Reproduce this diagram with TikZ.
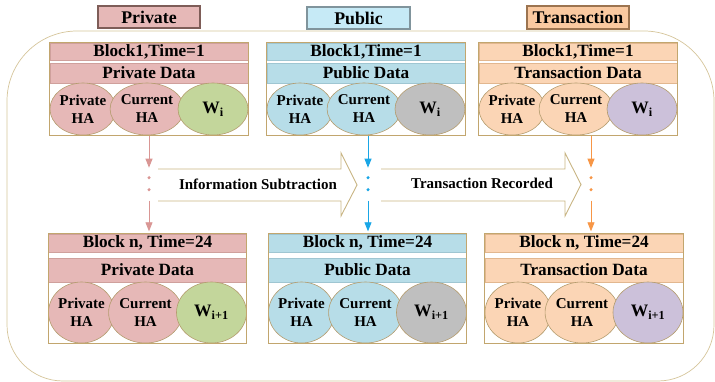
\documentclass[tikz,border=0pt]{standalone}
\usepackage{fontspec}
\setmainfont{Liberation Serif}
\usetikzlibrary{fit,arrows.meta,shapes.geometric,calc}
\definecolor{pinkf}{HTML}{E6B8B7}
\definecolor{pinkd}{HTML}{CFA09C}
\definecolor{bluef}{HTML}{B7DDE8}
\definecolor{blued}{HTML}{9FC6D2}
\definecolor{peachf}{HTML}{FBD5B5}
\definecolor{peachd}{HTML}{E2B78F}
\definecolor{greenf}{HTML}{C3D69B}
\definecolor{grayf}{HTML}{BFBFBF}
\definecolor{purplef}{HTML}{CCC1DA}
\definecolor{elld}{HTML}{B49C6E}
\definecolor{framec}{HTML}{C2A66E}
\definecolor{outerc}{HTML}{D5C59A}
\definecolor{bigac}{HTML}{C8B483}
\definecolor{pinka}{HTML}{D99694}
\definecolor{bluea}{HTML}{19A6E6}
\definecolor{orangea}{HTML}{F79646}
\definecolor{legpf}{HTML}{E6B8B7}
\definecolor{legpd}{HTML}{7E5D58}
\definecolor{legbf}{HTML}{C6EAF6}
\definecolor{legbd}{HTML}{80949C}
\definecolor{legtf}{HTML}{FAC9A0}
\definecolor{legtd}{HTML}{9C7450}
\begin{document}
\begin{tikzpicture}[x=1pt,y=-1pt,
  band/.style={inner sep=0pt, minimum width=198pt, line width=0.6pt,
    font=\fontsize{17.2}{19}\selectfont\bfseries},
  bandP/.style={band, fill=pinkf, draw=pinkd},
  bandB/.style={band, fill=bluef, draw=blued},
  bandT/.style={band, fill=peachf, draw=peachd},
  ell/.style={ellipse, draw=elld, line width=0.6pt, inner sep=0pt,
    minimum width=66pt, align=center, font=\fontsize{15}{18}\selectfont\bfseries},
  wel/.style={ell, minimum width=70pt, font=\fontsize{17.5}{19}\selectfont\bfseries},
  blockframe/.style={draw=framec, line width=0.8pt, inner sep=0pt},
  legend/.style={inner sep=0pt, line width=1.4pt, font=\fontsize{17.8}{19}\selectfont\bfseries},
  bigarrow/.style={draw=bigac, line width=0.9pt, line join=miter},
  varrow/.style={draw=#1, line width=0.9pt, -{Triangle[length=9pt,width=7pt]}},
  lbl/.style={font=\fontsize{15}{17}\selectfont\bfseries, inner sep=0pt}
]
\useasboundingbox (0,0) rectangle (715,382);

% outer frame
\draw[outerc, line width=0.7pt] (77,31) -- (644,31) .. controls (682.6,31) and (714,62.4) .. (714,101)
  -- (714,325) .. controls (714,355.9) and (688.9,381) .. (658,381) -- (63,381)
  .. controls (32.1,381) and (7,355.9) .. (7,325) -- (7,101)
  .. controls (7,62.4) and (38.4,31) .. (77,31) -- cycle;

% legend
\node[legend, fill=legpf, draw=legpd, minimum width=102pt, minimum height=22pt] (legP) at (149,17) {Private};
\node[legend, fill=legbf, draw=legbd, minimum width=103pt, minimum height=22pt] (legB) at (358.5,18) {Public};
\node[legend, fill=legtf, draw=legtd, minimum width=102pt, minimum height=23pt] (legT) at (578,17.5) {Transaction};

% ---------- top blocks ----------
% Private
\node[bandP, minimum height=17pt] (p1h) at (149,51.5) {Block1,Time=1};
\node[bandP, minimum height=20pt] (p1d) at (149,73) {Private Data};
\node[ell, fill=pinkf, minimum height=52pt] (p1a) at (83,109) {Private\\HA};
\node[ell, fill=pinkf, minimum height=52pt] (p1c) at (147,109) {Current\\HA};
\node[wel, fill=greenf, minimum height=52pt] (p1w) at (213,109) {W\textsubscript{i}};
\node[blockframe, fit=(p1h)(p1a)(p1c)(p1w)] (p1f) {};
% Public
\node[bandB, minimum height=17pt] (b1h) at (366,51.5) {Block1,Time=1};
\node[bandB, minimum height=20pt] (b1d) at (366,73) {Public Data};
\node[ell, fill=bluef, minimum height=52pt] (b1a) at (300,109) {Private\\HA};
\node[ell, fill=bluef, minimum height=52pt] (b1c) at (364,109) {Current\\HA};
\node[wel, fill=grayf, minimum height=52pt] (b1w) at (430,109) {W\textsubscript{i}};
\node[blockframe, fit=(b1h)(b1a)(b1c)(b1w)] (b1f) {};
% Transaction
\node[bandT, minimum height=17pt] (t1h) at (578,51.5) {Block1,Time=1};
\node[bandT, minimum height=20pt] (t1d) at (578,73) {Transaction Data};
\node[ell, fill=peachf, minimum height=52pt] (t1a) at (512,109) {Private\\HA};
\node[ell, fill=peachf, minimum height=52pt] (t1c) at (576,109) {Current\\HA};
\node[wel, fill=purplef, minimum height=52pt] (t1w) at (642,109) {W\textsubscript{i}};
\node[blockframe, fit=(t1h)(t1a)(t1c)(t1w)] (t1f) {};

% ---------- bottom blocks ----------
% Private
\node[bandP, minimum height=18pt] (pnh) at (147.5,243) {Block n, Time=24};
\node[bandP, minimum height=24pt] (pnd) at (147.5,270) {Private Data};
\node[ell, fill=pinkf, minimum height=61pt] (pna) at (81.5,312.5) {Private\\HA};
\node[ell, fill=pinkf, minimum height=61pt] (pnc) at (145.5,312.5) {Current\\HA};
\node[wel, fill=greenf, minimum height=61pt] (pnw) at (211.5,312.5) {W\textsubscript{i+1}};
\node[blockframe, fit=(pnh)(pna)(pnc)(pnw)] (pnf) {};
% Public
\node[bandB, minimum height=18pt] (bnh) at (367.5,243) {Block n, Time=24};
\node[bandB, minimum height=24pt] (bnd) at (367.5,270) {Public Data};
\node[ell, fill=bluef, minimum height=61pt] (bna) at (301.5,312.5) {Private\\HA};
\node[ell, fill=bluef, minimum height=61pt] (bnc) at (365.5,312.5) {Current\\HA};
\node[wel, fill=grayf, minimum height=61pt] (bnw) at (431.5,312.5) {W\textsubscript{i+1}};
\node[blockframe, fit=(bnh)(bna)(bnc)(bnw)] (bnf) {};
% Transaction
\node[bandT, minimum height=18pt] (tnh) at (584,243) {Block n, Time=24};
\node[bandT, minimum height=24pt] (tnd) at (584,270) {Transaction Data};
\node[ell, fill=peachf, minimum height=61pt] (tna) at (518,312.5) {Private\\HA};
\node[ell, fill=peachf, minimum height=61pt] (tnc) at (582,312.5) {Current\\HA};
\node[wel, fill=purplef, minimum height=61pt] (tnw) at (648,312.5) {W\textsubscript{i+1}};
\node[blockframe, fit=(tnh)(tna)(tnc)(tnw)] (tnf) {};

% ---------- big hollow arrows ----------
\draw[bigarrow] (158,169) -- (341,169) -- (341,153) -- (357,185) -- (341,216) -- (341,201) -- (158,201);
\draw[bigarrow] (381,169) -- (565,169) -- (565,153) -- (581,184.5) -- (565,216) -- (565,201) -- (381,201);
\node[lbl] (info) at (258,184) {Information Subtraction};
\node[lbl] (trec) at (482,183) {Transaction Recorded};

% ---------- vertical arrows ----------
\coordinate (xp) at (149,0);
\coordinate (xb) at (368,0);
\coordinate (xt) at (591,0);
\foreach \c/\col/\nt/\nb in {xp/pinka/p1f/pnf, xb/bluea/b1f/bnf, xt/orangea/t1f/tnf}{
  \coordinate (\c a) at ($(\c |- \nt.south)+(0,32)$);
  \coordinate (\c d1) at ($(\c |- \nt.south)+(0,42)$);
  \coordinate (\c d2) at ($(\c |- \nt.south)+(0,54)$);
  \coordinate (\c b) at ($(\c |- \nt.south)+(0,65)$);
  \draw[varrow=\col] (\c |- \nt.south) -- (\c a);
  \fill[\col] (\c d1) circle (1.7);
  \fill[\col] (\c d2) circle (1.7);
  \draw[varrow=\col, shorten >=2pt] (\c b) -- (\c |- \nb.north);
}
\end{tikzpicture}
\end{document}
